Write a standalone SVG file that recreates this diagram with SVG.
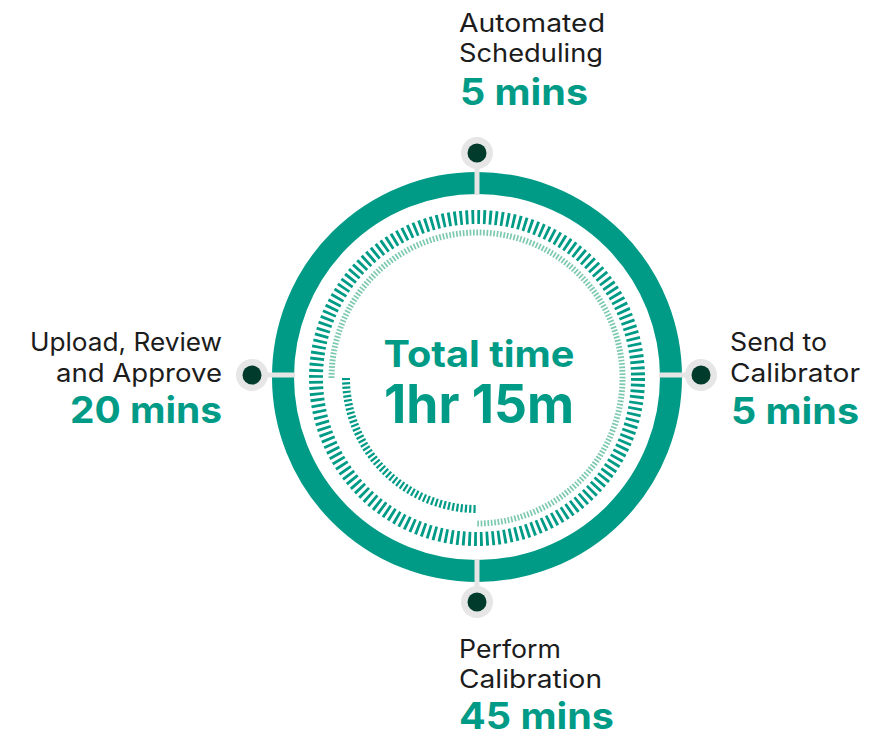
<svg xmlns="http://www.w3.org/2000/svg" width="896" height="738" viewBox="0 0 896 738">
<style>
.lbl{font-family:Inter,"Noto Sans","Liberation Sans",sans-serif;font-size:25px;fill:#1c1c1c;font-weight:400}
.num{font-family:Inter,"Noto Sans","Liberation Sans",sans-serif;font-size:37px;fill:#009b86;font-weight:700}
.ctr{font-family:Inter,"Noto Sans","Liberation Sans",sans-serif;fill:#009b86;font-weight:700}
.stem{stroke:#e5e5e5;stroke-width:5;fill:none}
.halo{fill:#e6e6e6}
.dot{fill:#003b2b}
</style>
<rect width="896" height="738" fill="#ffffff"/>
<g id="dial">
  <circle cx="477" cy="377" r="194" fill="none" stroke="#009b86" stroke-width="22"/>
  <circle cx="477" cy="378" r="161" fill="none" stroke="#009b86" stroke-width="14" stroke-dasharray="2.8 3.0813"/>
  <path d="M331.5,378 A145.5,145.5 0 1 1 477,523.5" fill="none" stroke="#7dc9b0" stroke-width="6" stroke-dasharray="1.7 1.7"/>
  <path d="M346,378 A131,131 0 0 0 477,509" fill="none" stroke="#009b86" stroke-width="8" stroke-dasharray="2.2 2.1"/>
</g>
<g id="connectors">
  <line class="stem" x1="477" y1="153" x2="477" y2="195"/>
  <line class="stem" x1="477" y1="559" x2="477" y2="602"/>
  <line class="stem" x1="252" y1="375" x2="295" y2="375"/>
  <line class="stem" x1="659" y1="375" x2="701" y2="375"/>
</g>
<g id="center-text">
  <text class="ctr" x="479" y="367" font-size="37" text-anchor="middle" textLength="191" lengthAdjust="spacingAndGlyphs">Total time</text>
  <text class="ctr" x="479" y="423" font-size="53" text-anchor="middle" textLength="190" lengthAdjust="spacingAndGlyphs">1hr 15m</text>
</g>
<g id="node-scheduling">
  <circle class="halo" cx="477" cy="153" r="16"/>
  <circle class="dot" cx="477" cy="153" r="9.5"/>
  <text class="lbl" x="459" y="32" textLength="146" lengthAdjust="spacingAndGlyphs">Automated</text>
  <text class="lbl" x="459" y="62" textLength="144" lengthAdjust="spacingAndGlyphs">Scheduling</text>
  <text class="num" x="460" y="105" textLength="128" lengthAdjust="spacingAndGlyphs">5 mins</text>
</g>
<g id="node-calibrator">
  <circle class="halo" cx="701" cy="375" r="16"/>
  <circle class="dot" cx="701" cy="375" r="9.5"/>
  <text class="lbl" x="730" y="351" textLength="97" lengthAdjust="spacingAndGlyphs">Send to</text>
  <text class="lbl" x="730" y="382" textLength="130" lengthAdjust="spacingAndGlyphs">Calibrator</text>
  <text class="num" x="731" y="424" textLength="128" lengthAdjust="spacingAndGlyphs">5 mins</text>
</g>
<g id="node-calibration">
  <circle class="halo" cx="477" cy="602" r="16"/>
  <circle class="dot" cx="477" cy="602" r="9.5"/>
  <text class="lbl" x="459" y="658" textLength="102" lengthAdjust="spacingAndGlyphs">Perform</text>
  <text class="lbl" x="459" y="688" textLength="143" lengthAdjust="spacingAndGlyphs">Calibration</text>
  <text class="num" x="459" y="729" font-size="35.5" textLength="155" lengthAdjust="spacingAndGlyphs">45 mins</text>
</g>
<g id="node-approve">
  <circle class="halo" cx="252" cy="375" r="16"/>
  <circle class="dot" cx="252" cy="375" r="9.5"/>
  <text class="lbl" x="222" y="351" text-anchor="end" textLength="192" lengthAdjust="spacingAndGlyphs">Upload, Review</text>
  <text class="lbl" x="222" y="382" text-anchor="end" textLength="166" lengthAdjust="spacingAndGlyphs">and Approve</text>
  <text class="num" x="222" y="423" text-anchor="end" textLength="152" lengthAdjust="spacingAndGlyphs">20 mins</text>
</g>
</svg>
